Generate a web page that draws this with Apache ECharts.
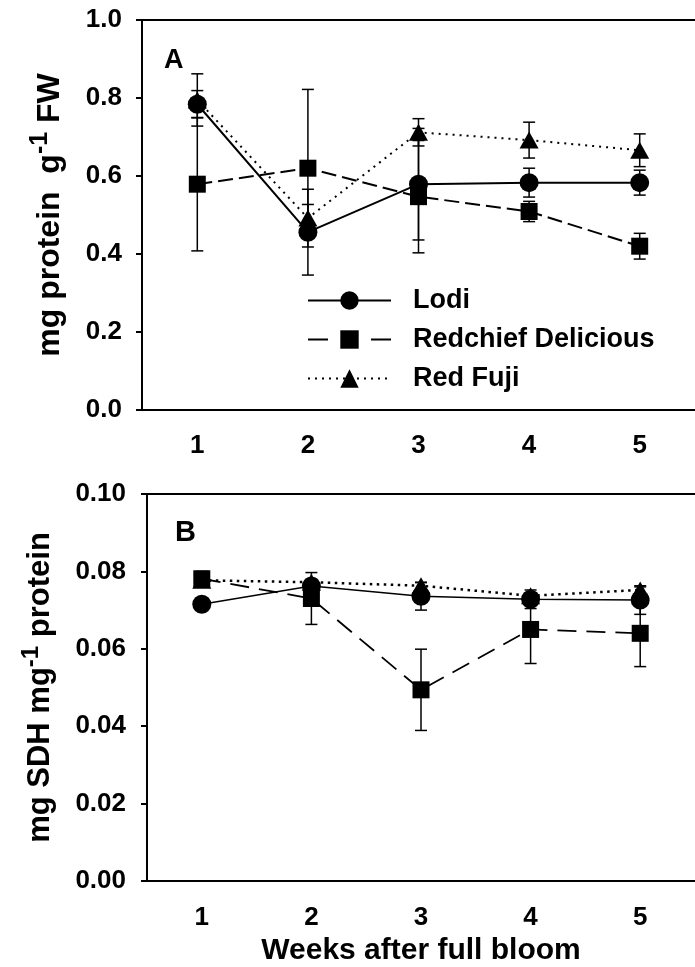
<!DOCTYPE html>
<html>
<head>
<meta charset="utf-8">
<script src="https://cdn.jsdelivr.net/npm/echarts@6/dist/echarts.min.js"></script>
<style>
html, body { margin: 0; padding: 0; background: #fff; }
#chart { width: 695px; height: 967px; }
</style>
</head>
<body>
<div id="chart"></div>
<script>
var weeks = ['1', '2', '3', '4', '5'];

// panel A - mg protein g-1 FW (mean and +/- error)
var lodiA = [0.784, 0.456, 0.579, 0.583, 0.583];
var lodiAErr = [0.035, 0.110, 0.143, 0.037, 0.032];
var redchiefA = [0.579, 0.620, 0.547, 0.509, 0.420];
var redchiefAErr = [0.171, 0.202, 0.144, 0.026, 0.033];
var fujiA = [0.795, 0.492, 0.712, 0.692, 0.666];
var fujiAErr = [0.067, 0.035, 0.035, 0.046, 0.042];

// panel B - mg SDH mg-1 protein
var lodiB = [0.0715, 0.0762, 0.0736, 0.0728, 0.0726];
var lodiBErr = [0.0010, 0.0012, 0.0036, 0.0024, 0.0037];
var redchiefB = [0.0781, 0.0730, 0.0494, 0.0650, 0.0640];
var redchiefBErr = [0.0019, 0.0067, 0.0105, 0.0088, 0.0086];
var fujiB = [0.0777, 0.0772, 0.0763, 0.0737, 0.0752];
var fujiBErr = [0.0008, 0.0008, 0.0008, 0.0008, 0.0008];

var yTicksA = [0, 0.2, 0.4, 0.6, 0.8, 1.0];
var yTicksB = [0, 0.02, 0.04, 0.06, 0.08, 0.10];

var FONT = "'Liberation Sans', Arial, sans-serif";

var chart = echarts.init(document.getElementById('chart'));

function errData(vals, errs) {
    return vals.map(function (v, i) { return [i, v - errs[i], v + errs[i]]; });
}

function errorBars(params, api) {
    var x = api.value(0);
    var hi = api.coord([x, api.value(2)]);
    var lo = api.coord([x, api.value(1)]);
    var cap = 6;
    var st = { stroke: '#000', lineWidth: 1.5 };
    return {
        type: 'group',
        children: [
            { type: 'line', shape: { x1: hi[0], y1: hi[1], x2: lo[0], y2: lo[1] }, style: st },
            { type: 'line', shape: { x1: hi[0] - cap, y1: hi[1], x2: hi[0] + cap, y2: hi[1] }, style: st },
            { type: 'line', shape: { x1: lo[0] - cap, y1: lo[1], x2: lo[0] + cap, y2: lo[1] }, style: st }
        ]
    };
}

function errSeries(vals, errs, idx) {
    return {
        type: 'custom',
        xAxisIndex: idx * 2,
        yAxisIndex: idx,
        renderItem: errorBars,
        encode: { x: 0, y: [1, 2] },
        data: errData(vals, errs),
        silent: true,
        z: 1
    };
}

function lineSeries(name, vals, idx, symbol, size, lineStyle) {
    return {
        name: name,
        type: 'line',
        xAxisIndex: idx * 2,
        yAxisIndex: idx,
        data: vals,
        symbol: symbol,
        symbolSize: size,
        showSymbol: true,
        itemStyle: { color: '#000' },
        lineStyle: Object.assign({ color: '#000' }, lineStyle),
        z: 3
    };
}

function xAxisOpt(idx, margin) {
    return {
        type: 'category',
        gridIndex: idx,
        data: weeks,
        boundaryGap: true,
        axisLine: { lineStyle: { color: '#000', width: 2 } },
        axisTick: { alignWithLabel: true, length: 6, lineStyle: { color: '#000', width: 2 } },
        axisLabel: { interval: 0, margin: margin, color: '#000', fontSize: 26, fontWeight: 'bold', fontFamily: FONT },
        splitLine: { show: false }
    };
}

// plain top frame line, no ticks or labels
function topAxisOpt(idx) {
    return {
        type: 'category',
        gridIndex: idx,
        position: 'top',
        data: weeks,
        axisLine: { show: true, lineStyle: { color: '#000', width: 2 } },
        axisTick: { show: false },
        axisLabel: { show: false },
        splitLine: { show: false }
    };
}

function yAxisOpt(idx, ticks, digits, margin) {
    return {
        type: 'value',
        gridIndex: idx,
        min: ticks[0],
        max: ticks[ticks.length - 1],
        interval: ticks[1] - ticks[0],
        axisLine: { show: true, lineStyle: { color: '#000', width: 2 } },
        axisTick: { show: true, length: 6, lineStyle: { color: '#000', width: 2 } },
        axisLabel: {
            margin: margin, color: '#000', fontSize: 26, fontWeight: 'bold', fontFamily: FONT,
            formatter: function (v) { return v.toFixed(digits); }
        },
        splitLine: { show: false }
    };
}

var xA = xAxisOpt(0, 23);
var xB = xAxisOpt(1, 24);
xB.name = 'Weeks after full bloom';
xB.nameLocation = 'middle';
xB.nameGap = 55;
xB.nameTextStyle = { color: '#000', fontSize: 30, fontWeight: 'bold', fontFamily: FONT };

var yA = yAxisOpt(0, yTicksA, 1, 20);
yA.name = '{a|mg protein  g}{s|-1}{a| FW}';
yA.nameLocation = 'middle';
yA.nameRotate = 90;
yA.nameGap = 69;
yA.nameTextStyle = {
    color: '#000', fontFamily: FONT,
    rich: {
        a: { fontSize: 32, fontWeight: 'bold', fontFamily: FONT, color: '#000' },
        s: { fontSize: 25, fontWeight: 'bold', fontFamily: FONT, color: '#000', padding: [0, 0, 20, 0] }
    }
};

var yB = yAxisOpt(1, yTicksB, 2, 21);
yB.name = '{a|mg SDH mg}{s|-1}{a| protein}';
yB.nameLocation = 'middle';
yB.nameRotate = 90;
yB.nameGap = 85;
yB.nameTextStyle = {
    color: '#000', fontFamily: FONT,
    rich: {
        a: { fontSize: 31, fontWeight: 'bold', fontFamily: FONT, color: '#000' },
        s: { fontSize: 24, fontWeight: 'bold', fontFamily: FONT, color: '#000', padding: [0, 0, 19, 0] }
    }
};

var dashA = { width: 2, type: [15, 6] };
var dotA = { width: 2, type: [2, 5] };
var dashB = { width: 1.8, type: [19, 10] };
var dotB = { width: 2.5, type: [2.5, 4.5] };

var option = {
    animation: false,
    backgroundColor: '#fff',
    title: [
        { text: 'A', left: 164, top: 47, padding: 0, textStyle: { fontSize: 27, fontWeight: 'bold', fontFamily: FONT, color: '#000' } },
        { text: 'B', left: 175, top: 518, padding: 0, textStyle: { fontSize: 29, fontWeight: 'bold', fontFamily: FONT, color: '#000' } }
    ],
    grid: [
        { left: 142, top: 20, width: 555, height: 390 },
        { left: 147, top: 494, width: 552, height: 387 }
    ],
    legend: {
        orient: 'vertical',
        left: 307,
        top: 287,
        padding: 0,
        itemWidth: 83,
        itemHeight: 23,
        itemGap: 12,
        selectedMode: false,
        textStyle: { fontSize: 27, fontWeight: 'bold', fontFamily: FONT, color: '#000', padding: [0, 0, 0, 17] },
        data: [
            { name: 'Lodi' },
            { name: 'Redchief Delicious', lineStyle: { type: [20, 43] } },
            { name: 'Red Fuji' }
        ]
    },
    xAxis: [xA, topAxisOpt(0), xB, topAxisOpt(1)],
    yAxis: [yA, yB],
    series: [
        errSeries(lodiA, lodiAErr, 0),
        errSeries(redchiefA, redchiefAErr, 0),
        errSeries(fujiA, fujiAErr, 0),
        lineSeries('Lodi', lodiA, 0, 'circle', 19, { width: 2, type: 'solid' }),
        lineSeries('Redchief Delicious', redchiefA, 0, 'rect', 17, dashA),
        lineSeries('Red Fuji', fujiA, 0, 'triangle', [19, 17], dotA),

        errSeries(lodiB, lodiBErr, 1),
        errSeries(redchiefB, redchiefBErr, 1),
        errSeries(fujiB, fujiBErr, 1),
        lineSeries('Lodi', lodiB, 1, 'circle', 19, { width: 1.5, type: 'solid' }),
        lineSeries('Redchief Delicious', redchiefB, 1, 'rect', 17, dashB),
        lineSeries('Red Fuji', fujiB, 1, 'triangle', [19, 17], dotB)
    ]
};

chart.setOption(option);
</script>
</body>
</html>
